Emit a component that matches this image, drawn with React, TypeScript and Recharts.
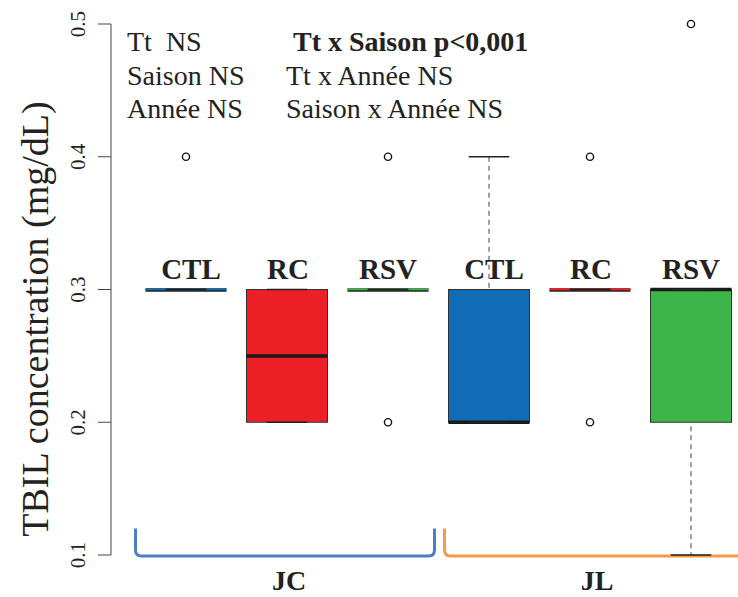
import React from 'react';
import { ComposedChart, Bar, Scatter, XAxis, YAxis, ReferenceArea, LabelList } from 'recharts';

// ---- data ----
const categories = ['CTL-JC', 'RC-JC', 'RSV-JC', 'CTL-JL', 'RC-JL', 'RSV-JL'];
const boxLabels = ['CTL', 'RC', 'RSV', 'CTL', 'RC', 'RSV'];
const q1Values = [0.3, 0.2, 0.3, 0.2, 0.3, 0.2];
const medianValues = [0.3, 0.25, 0.3, 0.2, 0.3, 0.3];
const q3Values = [0.3, 0.3, 0.3, 0.3, 0.3, 0.3];
const whiskerLow = [0.3, 0.2, 0.3, 0.2, 0.3, 0.1];
const whiskerHigh = [0.3, 0.3, 0.3, 0.4, 0.3, 0.3];
const outlierCategories = ['CTL-JC', 'RSV-JC', 'RSV-JC', 'RC-JL', 'RC-JL', 'RSV-JL'];
const outlierValues = [0.4, 0.4, 0.2, 0.4, 0.2, 0.5];
const yTicks = [0.1, 0.2, 0.3, 0.4, 0.5];
const yDomain = [0.1, 0.5];
const groupNames = ['JC', 'JL'];
const groupStart = ['CTL-JC', 'CTL-JL'];
const groupEnd = ['RSV-JC', 'RSV-JL'];
const annotationsLeft = ['Tt\u00a0\u00a0NS', 'Saison NS', 'Année NS'];
const annotationsRight = ['Tt x Saison p<0,001', 'Tt x Année NS', 'Saison x Année NS'];
const yTitle = 'TBIL concentration (mg/dL)';

// ---- styles ----
const FONT = "'Liberation Serif', 'DejaVu Serif', 'Times New Roman', serif";
const boxColors: Record<string, string> = { CTL: '#116cb5', RC: '#ed1f26', RSV: '#3db54a' };
const labelDx: Record<string, number> = { CTL: 5, RC: 1, RSV: 0 };
const groupColors = ['#4a80c3', '#f7984a'];
const groupInsets = [
  [0, 4],
  [6, 0],
];

const rows = categories.map((name, i) => ({
  name,
  label: boxLabels[i],
  box: [q1Values[i], q3Values[i]],
  whisker: [whiskerLow[i], whiskerHigh[i]],
  q1: q1Values[i],
  med: medianValues[i],
  q3: q3Values[i],
  lo: whiskerLow[i],
  hi: whiskerHigh[i],
}));

const outliers = outlierCategories.map((name, i) => ({ name, value: outlierValues[i] }));

const BoxShape = (props: any) => {
  const { x, y, width, height, payload } = props;
  const color = boxColors[payload.label];
  if (!height || height < 0.5) {
    return (
      <g>
        <line x1={x} x2={x + width} y1={y + 0.5} y2={y + 0.5} stroke="#222" strokeWidth={3.5} />
        <line x1={x} x2={x + width} y1={y - 0.3} y2={y - 0.3} stroke={color} strokeWidth={2} />
      </g>
    );
  }
  const medY = y + (height * (payload.q3 - payload.med)) / (payload.q3 - payload.q1);
  return (
    <g>
      <rect x={x} y={y} width={width} height={height} fill={color} stroke="#333" strokeWidth={1} />
      <line x1={x} x2={x + width} y1={medY} y2={medY} stroke="#1a1a1a" strokeWidth={3.5} />
    </g>
  );
};

const WhiskerShape = (props: any) => {
  const { x, y, width, height, payload } = props;
  const cx = x + width / 2;
  const capHalf = width / 4;
  const lines: any[] = [];
  if (height > 0.5) {
    const pix = (v: number) => y + (height * (payload.hi - v)) / (payload.hi - payload.lo);
    const q3y = pix(payload.q3);
    const q1y = pix(payload.q1);
    if (q3y - y > 0.5) {
      lines.push(<line key="u" x1={cx} x2={cx} y1={y} y2={q3y} stroke="#444" strokeWidth={1} strokeDasharray="5 4" />);
    }
    if (y + height - q1y > 0.5) {
      lines.push(<line key="d" x1={cx} x2={cx} y1={q1y + 4} y2={y + height} stroke="#444" strokeWidth={1} strokeDasharray="5 4" />);
    }
  }
  return (
    <g>
      {lines}
      <line x1={cx - capHalf} x2={cx + capHalf} y1={y} y2={y} stroke="#222" strokeWidth={1.3} />
      <line x1={cx - capHalf} x2={cx + capHalf} y1={y + height} y2={y + height} stroke="#222" strokeWidth={1.3} />
    </g>
  );
};

const OutlierShape = (props: any) => {
  const { cx, cy } = props;
  return <circle cx={cx} cy={cy} r={3.6} fill="#fff" stroke="#111" strokeWidth={1.4} />;
};

const YTick = (props: any) => {
  const { x, y, payload } = props;
  return (
    <text
      x={x}
      y={y}
      transform={`rotate(-90, ${x}, ${y})`}
      textAnchor="middle"
      style={{ fontFamily: FONT, fontSize: 21 }}
      fill="#222"
    >
      {payload.value.toFixed(1)}
    </text>
  );
};

const BoxLabel = (props: any) => {
  const { x, y, width, value } = props;
  return (
    <text
      x={x + width / 2 + (labelDx[value] || 0)}
      y={y - 11}
      textAnchor="middle"
      style={{ fontFamily: FONT, fontSize: 29, fontWeight: 'bold' }}
      fill="#222"
    >
      {value}
    </text>
  );
};

const makeBracket = (gi: number) => (props: any) => {
  const { x, y, width, height } = props;
  const L = x + groupInsets[gi][0];
  const R = x + width - groupInsets[gi][1];
  const T = y;
  const B = y + height + 1;
  const r = 6;
  const d = `M ${L} ${T} L ${L} ${B - r} Q ${L} ${B} ${L + r} ${B} L ${R - r} ${B} Q ${R} ${B} ${R} ${B - r} L ${R} ${T}`;
  return (
    <g>
      <path d={d} fill="none" stroke={groupColors[gi]} strokeWidth={3} />
      <text
        x={(L + R) / 2 + 4}
        y={B + 34}
        textAnchor="middle"
        style={{ fontFamily: FONT, fontSize: 28, fontWeight: 'bold' }}
        fill="#222"
      >
        {groupNames[gi]}
      </text>
    </g>
  );
};

export default function App() {
  return (
    <div style={{ position: 'relative', width: 738, height: 597, overflow: 'hidden', background: '#fff' }}>
      <style>{'body{margin:0;}'}</style>
      <ComposedChart
        width={742}
        height={597}
        data={rows}
        margin={{ top: 24, right: 0, bottom: 42, left: 0 }}
      >
        <XAxis
          xAxisId="box"
          dataKey="name"
          type="category"
          allowDuplicatedCategory={false}
          hide
          padding={{ left: 24.5, right: 0.5 }}
        />
        <XAxis
          xAxisId="wh"
          dataKey="name"
          type="category"
          allowDuplicatedCategory={false}
          hide
          padding={{ left: 24.5, right: 0.5 }}
        />
        <YAxis
          yAxisId="y"
          type="number"
          domain={yDomain}
          ticks={yTicks}
          interval={0}
          width={111}
          tickSize={13}
          tickMargin={13}
          axisLine={{ stroke: '#444', strokeWidth: 1 }}
          tickLine={{ stroke: '#444', strokeWidth: 1 }}
          tick={<YTick />}
        />
        {groupNames.map((g, gi) => (
          <ReferenceArea
            key={g}
            xAxisId="box"
            yAxisId="y"
            x1={groupStart[gi]}
            x2={groupEnd[gi]}
            y1={0.1}
            y2={0.12}
            ifOverflow="visible"
            shape={makeBracket(gi)}
          />
        ))}
        <Bar
          xAxisId="box"
          yAxisId="y"
          dataKey="box"
          barSize={81}
          shape={<BoxShape />}
          isAnimationActive={false}
        >
          <LabelList dataKey="label" content={<BoxLabel />} />
        </Bar>
        <Bar
          xAxisId="wh"
          yAxisId="y"
          dataKey="whisker"
          barSize={81}
          shape={<WhiskerShape />}
          isAnimationActive={false}
        />
        <Scatter
          xAxisId="box"
          yAxisId="y"
          data={outliers}
          dataKey="value"
          shape={<OutlierShape />}
          isAnimationActive={false}
        />
      </ComposedChart>
      <svg
        width={738}
        height={597}
        style={{ position: 'absolute', left: 0, top: 0, pointerEvents: 'none' }}
      >
        <text
          transform="rotate(-90)"
          x={-319}
          y={48}
          textAnchor="middle"
          style={{ fontFamily: FONT, fontSize: 38 }}
          fill="#222"
        >
          {yTitle}
        </text>
        {annotationsLeft.map((t, i) => (
          <text key={t} x={127} y={51 + i * 33.5} style={{ fontFamily: FONT, fontSize: 28, whiteSpace: 'pre' }} fill="#222">
            {t}
          </text>
        ))}
        {annotationsRight.map((t, i) => (
          <text
            key={t}
            x={i === 0 ? 293 : 286}
            y={51 + i * 33.5}
            style={{ fontFamily: FONT, fontSize: 28, fontWeight: i === 0 ? 'bold' : 'normal' }}
            fill="#222"
          >
            {t}
          </text>
        ))}
      </svg>
    </div>
  );
}
